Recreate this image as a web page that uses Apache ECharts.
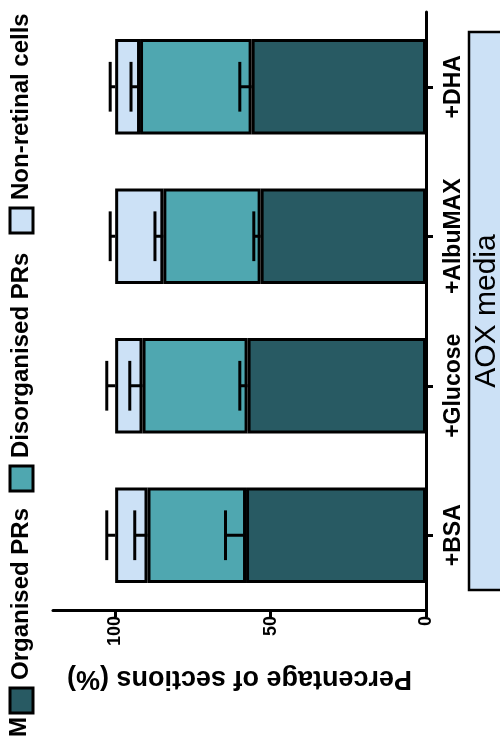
<!DOCTYPE html>
<html><head><meta charset="utf-8">
<script src="https://cdn.jsdelivr.net/npm/echarts@6/dist/echarts.min.js"></script>
<style>html,body{margin:0;padding:0;background:#fff}#c{width:500px;height:737px}</style>
</head><body><div id="c"></div>
<script>
const categories = ['+BSA', '+Glucose', '+AlbuMAX', '+DHA'];
const seriesNames = ['Organised PRs', 'Disorganised PRs', 'Non-retinal cells'];
const organised = [57.9, 57.4, 53.2, 56.1];
const disorganised = [31.7, 33.8, 31.3, 35.9];
const nonRetinal = [10.4, 8.8, 15.5, 8.0];
const organisedErr = [6.6, 2.5, 2.2, 3.8];
const disorganisedErr = [4.1, 4.1, 2.7, 2.9];
const nonRetinalErr = [2.7, 2.7, 1.6, 1.6];
const valueTicks = [0, 50, 100];
const groupLabel = 'AOX media';
const axisTitle = 'Percentage of sections (%)';
const panelLabel = 'M';

const colors = ['#285a63', '#4fa7b0', '#cce1f6'];
const FONT = 'Liberation Sans, Arial, sans-serif';

const values = [organised, disorganised, nonRetinal];
const errs = [organisedErr, disorganisedErr, nonRetinalErr];
const errData = [];
categories.forEach((c, i) => {
  let cum = 0;
  for (let s = 0; s < 3; s++) {
    cum += values[s][i];
    errData.push([i, cum, errs[s][i]]);
  }
});

const chart = echarts.init(document.getElementById('c'), null, {renderer: 'canvas'});

const barSeries = seriesNames.map((n, s) => ({
  name: n, type: 'bar', stack: 'total',
  data: values[s], barCategoryGap: '36%',
  itemStyle: {color: colors[s], borderColor: '#000', borderWidth: 3},
  z: 2
}));

const errSeries = {
  type: 'custom', z: 5,
  data: errData,
  renderItem: function (params, api) {
    const ci = api.value(0), base = api.value(1), e = api.value(2);
    const p0 = api.coord([base, ci]);
    const p1 = api.coord([base + e, ci]);
    const bw = api.size([0, 1])[1] * 0.64;
    const half = bw * 0.26;
    const st = {stroke: '#000', lineWidth: 3};
    return {type: 'group', children: [
      {type: 'line', shape: {x1: p0[0], y1: p0[1], x2: p1[0], y2: p1[1]}, style: st},
      {type: 'line', shape: {x1: p1[0], y1: p1[1] - half, x2: p1[0], y2: p1[1] + half}, style: st}
    ]};
  }
};

// legend graphics (rotated, reading bottom-to-top)
const legendItems = [
  {sq: 688, ty: 680},
  {sq: 466, ty: 458},
  {sq: 208, ty: 200}
];
const graphics = [];
legendItems.forEach((it, i) => {
  graphics.push({type: 'rect', shape: {x: 10, y: it.sq, width: 23, height: 25},
    style: {fill: colors[i], stroke: '#000', lineWidth: 3}});
  graphics.push({type: 'text', x: 21, y: it.ty, rotation: Math.PI / 2,
    style: {text: seriesNames[i], fill: '#000', font: 'bold 24px ' + FONT, textAlign: 'left', textVerticalAlign: 'middle'}});
});
graphics.push({type: 'text', x: 19, y: 727, rotation: Math.PI / 2,
  style: {text: panelLabel, fill: '#000', font: 'bold 24px ' + FONT, textAlign: 'center', textVerticalAlign: 'middle'}});
graphics.push({type: 'rect', shape: {x: 469, y: 32, width: 40, height: 558},
  style: {fill: '#cce1f6', stroke: '#000', lineWidth: 2.5}});
graphics.push({type: 'text', x: 487, y: 311, rotation: Math.PI / 2,
  style: {text: groupLabel, fill: '#000', font: '30px ' + FONT, textAlign: 'center', textVerticalAlign: 'middle'}});

chart.setOption({
  animation: false,
  grid: {left: 53, right: 74, top: 12, bottom: 127, containLabel: false},
  xAxis: {
    type: 'value', inverse: true, min: 0, max: 120, interval: 50,
    splitLine: {show: false},
    axisLine: {show: true, lineStyle: {color: '#000', width: 3}},
    axisTick: {show: true, length: 7, lineStyle: {color: '#000', width: 3}, customValues: valueTicks},
    axisLabel: {rotate: 90, margin: 6, color: '#000', fontSize: 18, fontWeight: 'bold', fontFamily: FONT, customValues: valueTicks},
    name: axisTitle, nameLocation: 'middle', nameRotate: 180, nameGap: 55,
    nameTextStyle: {color: '#000', fontSize: 27, fontWeight: 'bold', fontFamily: FONT}
  },
  yAxis: {
    type: 'category', data: categories, position: 'right',
    axisLine: {show: true, lineStyle: {color: '#000', width: 3}},
    axisTick: {show: true, alignWithLabel: true, length: 7, lineStyle: {color: '#000', width: 3}},
    axisLabel: {rotate: 90, interval: 0, hideOverlap: false, margin: 16, color: '#000', fontSize: 23, fontWeight: 'bold', fontFamily: FONT}
  },
  series: [...barSeries, errSeries],
  graphic: graphics
});
</script></body></html>
